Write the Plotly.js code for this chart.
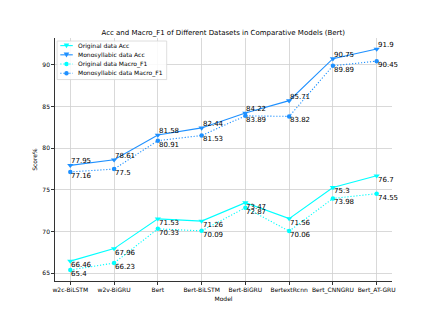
<!DOCTYPE html>
<html><head><meta charset="utf-8">
<script src="https://cdn.plot.ly/plotly-3.0.1.min.js"></script>
<style>html,body{margin:0;padding:0;background:#fff}#c{width:436px;height:317px}</style>
</head><body><div id="c"></div>
<script>
const models = ["w2c-BiLSTM","w2v-BiGRU","Bert","Bert-BiLSTM","Bert-BiGRU","BertextRcnn","Bert_CNNGRU","Bert_AT-GRU"];
const origAcc = [66.46,67.96,71.53,71.26,73.47,71.56,75.3,76.7];
const monoAcc = [77.95,78.61,81.58,82.44,84.22,85.71,90.75,91.9];
const origF1 = [65.4,66.23,70.33,70.09,72.87,70.06,73.98,74.55];
const monoF1 = [77.16,77.5,80.91,81.53,83.89,83.82,89.89,90.45];
const yTicks = [65,70,75,80,85,90];
const seriesNames = ["Original data Acc","Monosyllabic data Acc","Original data Macro_F1","Monosyllabic data Macro_F1"];

const F = "DejaVu Sans, sans-serif";
const cyan = "#00FFFF", blue = "#1E90FF";
const DOT = "1.2px,1.8px";
const idx = models.map((_, i) => i);
const series = [
  {y: origAcc, color: cyan, dash: "solid", symbol: "triangle-down", above: false},
  {y: monoAcc, color: blue, dash: "solid", symbol: "triangle-down", above: true},
  {y: origF1, color: cyan, dash: DOT, symbol: "circle", above: false},
  {y: monoF1, color: blue, dash: DOT, symbol: "circle", above: false}
];
const data = series.map((s, k) => ({
  x: idx, y: s.y, name: seriesNames[k], type: "scatter", mode: "lines+markers",
  line: {color: s.color, width: 1.1, dash: s.dash},
  marker: {color: s.color, symbol: s.symbol, size: s.symbol === "circle" ? 4.5 : 5.5, line: {width: 0}},
  cliponaxis: false, showlegend: false
}));
const annotations = [];
series.forEach(s => s.y.forEach((v, i) => annotations.push({
  x: i, y: v, xref: "x", yref: "y", text: String(v), showarrow: false,
  xanchor: "left", yanchor: s.above ? "bottom" : "top", borderpad: 0,
  yshift: s.above ? -1 : 1, xshift: 0,
  font: {family: F, size: 7, color: "#000"}
})));
// custom compact legend (pixel -> paper helpers)
const L = 54.7, R = 392, T = 38, B = 280.7;
const px = p => (p - L) / (R - L), py = p => (B - p) / (B - T);
const shapes = [{type: "rect", xref: "paper", yref: "paper", x0: px(56.8), x1: px(166.5), y0: py(41), y1: py(79.5),
  line: {color: "#d6d6d6", width: 0.8}, fillcolor: "rgba(255,255,255,0.85)", layer: "above"}];
const rowY = [45.6, 54.8, 64.0, 73.2];
series.forEach((s, k) => {
  const yy = py(rowY[k]);
  shapes.push({type: "line", xref: "paper", yref: "paper", x0: px(60), x1: px(72.5), y0: yy, y1: yy,
    line: {color: s.color, width: 1.1, dash: s.dash}, layer: "above"});
  if (s.symbol === "circle") {
    shapes.push({type: "circle", xref: "paper", yref: "paper", xsizemode: "pixel", ysizemode: "pixel",
      xanchor: px(66.2), yanchor: yy, x0: -2.2, x1: 2.2, y0: -2.2, y1: 2.2,
      fillcolor: s.color, line: {width: 0}, layer: "above"});
  } else {
    shapes.push({type: "path", xref: "paper", yref: "paper", xsizemode: "pixel", ysizemode: "pixel",
      xanchor: px(66.2), yanchor: yy, path: "M-2.8,2.2 L2.8,2.2 L0,-2.6 Z",
      fillcolor: s.color, line: {width: 0}, layer: "above"});
  }
  annotations.push({xref: "paper", yref: "paper", x: px(77), y: yy, xanchor: "left", yanchor: "middle",
    text: seriesNames[k], showarrow: false, borderpad: 0, font: {family: F, size: 6, color: "#000"}});
});
const layout = {
  width: 436, height: 317,
  margin: {l: L, r: 436 - R, t: T, b: 317 - B},
  paper_bgcolor: "#fff", plot_bgcolor: "#fff",
  font: {family: F, size: 6, color: "#000"},
  title: {text: "Acc and Macro_F1 of Different Datasets in Comparative Models (Bert)",
    font: {family: F, size: 7, color: "#000"}, x: 0.512, xanchor: "center", y: 1 - 32.3 / 317, yanchor: "middle", yref: "container"},
  xaxis: {range: [-0.35, 7.35], tickvals: idx, ticktext: models, showgrid: true, gridcolor: "#d0d0d0", gridwidth: 0.8,
    showline: true, linecolor: "#000", linewidth: 0.8, ticks: "outside", ticklen: 3, tickcolor: "#000", tickwidth: 0.8,
    zeroline: false, tickfont: {family: F, size: 6},
    title: {text: "Model", font: {family: F, size: 6}, standoff: 3}},
  yaxis: {range: [64.075, 93.225], tickvals: yTicks, showgrid: true, gridcolor: "#d0d0d0", gridwidth: 0.8,
    showline: true, linecolor: "#000", linewidth: 0.8, ticks: "outside", ticklen: 3, tickcolor: "#000", tickwidth: 0.8,
    zeroline: false, tickfont: {family: F, size: 6},
    title: {text: "Score%", font: {family: F, size: 6}, standoff: 4}},
  annotations: annotations, shapes: shapes,
  showlegend: false
};
Plotly.newPlot("c", data, layout, {displayModeBar: false, staticPlot: true});
</script></body></html>
